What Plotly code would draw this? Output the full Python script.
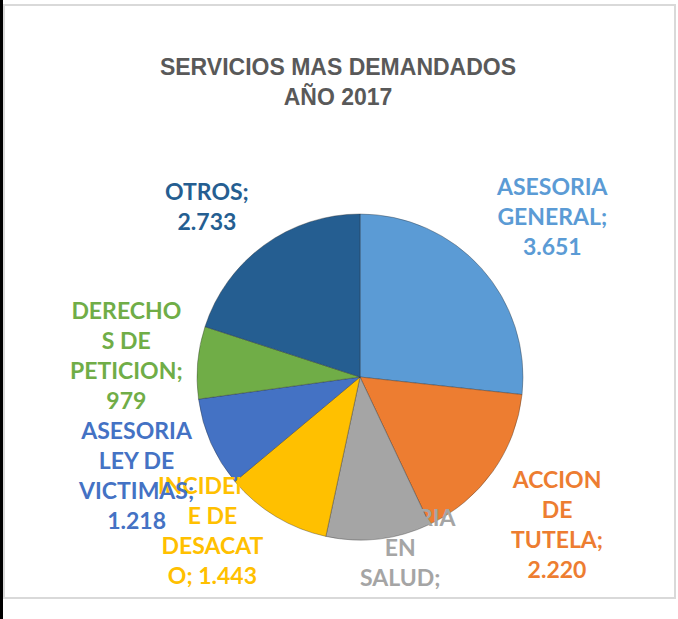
import plotly.graph_objects as go

# ---- data ----
categories = ["ASESORIA GENERAL", "ACCION DE TUTELA", "ASESORIA EN SALUD",
              "INCIDENTE DE DESACATO", "ASESORIA LEY DE VICTIMAS",
              "DERECHOS DE PETICION", "OTROS"]
values = [3651, 2220, 1420, 1443, 1218, 979, 2733]
value_text = ["3.651", "2.220", "", "1.443", "1.218", "979", "2.733"]
# label text as wrapped in the original chart
label_lines = [
    ["ASESORIA", "GENERAL;", "3.651"],
    ["ACCION", "DE", "TUTELA;", "2.220"],
    ["ASESORIA", "EN", "SALUD;"],
    ["INCIDENT", "E DE", "DESACAT", "O; 1.443"],
    ["ASESORIA", "LEY DE", "VICTIMAS;", "1.218"],
    ["DERECHO", "S DE", "PETICION;", "979"],
    ["OTROS;", "2.733"],
]
colors = ["#5B9BD5", "#ED7D31", "#A5A5A5", "#FFC000", "#4472C4", "#70AD47", "#255E91"]
title_text = "SERVICIOS MAS DEMANDADOS<br>AÑO 2017"

# ---- layout helpers ----
W, H = 678, 619
cx, cy, r = 360, 377, 163
label_pos = [(552, 216), (557, 524), (401, 547), (212, 530), (136, 475), (126, 355), (207, 206)]

def px(x):
    return x / W

def py(y):
    return 1 - y / H

fig = go.Figure()
fig.add_trace(go.Pie(
    labels=categories,
    values=values,
    sort=False,
    direction="clockwise",
    rotation=0,
    textinfo="none",
    hoverinfo="label+value",
    marker=dict(colors=colors, line=dict(color="rgba(40,40,40,0.35)", width=1)),
    domain=dict(x=[px(cx - r), px(cx + r)], y=[py(cy + r), py(cy - r)]),
    showlegend=False,
))

for lines, col, (x, y) in zip(label_lines, colors, label_pos):
    fig.add_annotation(
        x=px(x), y=py(y), xref="paper", yref="paper",
        text="<b>" + "<br>".join(lines) + "</b>",
        showarrow=False, xanchor="center", yanchor="middle", align="center",
        font=dict(family="Lato", size=23, color=col),
    )

fig.add_shape(type="rect", xref="paper", yref="paper",
              x0=px(4), x1=px(675), y0=py(598), y1=py(5),
              line=dict(color="#D9D9D9", width=2))
fig.add_shape(type="rect", xref="paper", yref="paper",
              x0=0, x1=px(3), y0=0, y1=1,
              fillcolor="#000000", line=dict(width=0), layer="above")

fig.update_layout(
    width=W, height=H,
    margin=dict(l=0, r=0, t=0, b=0),
    paper_bgcolor="white", plot_bgcolor="white",
    title=dict(text="<b>" + title_text + "</b>", x=px(338), y=py(75),
               xanchor="center", yanchor="middle",
               font=dict(family="Liberation Sans, Arial", size=23, color="#595959")),
)

fig.write_html("out.html", config={"displayModeBar": False},
               post_script="document.body.style.margin='0';document.body.style.overflow='hidden';")
